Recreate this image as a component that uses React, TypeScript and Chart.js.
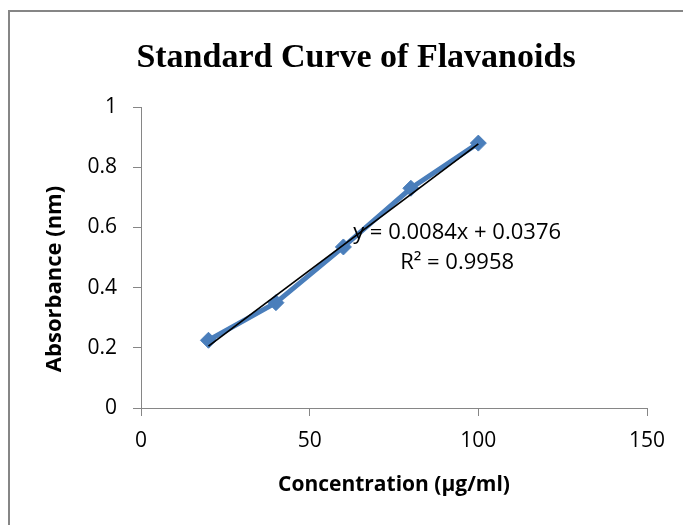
import React, { useEffect, useRef } from "react";
import { Chart, registerables } from "chart.js";

Chart.register(...registerables);

const chartTitle = "Standard Curve of Flavanoids";
const xAxisTitle = "Concentration (µg/ml)";
const yAxisTitle = "Absorbance (nm)";

const concentrations = [20, 40, 60, 80, 100];
const absorbances = [0.225, 0.35, 0.535, 0.73, 0.88];

const xTickValues = [0, 50, 100, 150];
const yTickValues = [0, 0.2, 0.4, 0.6, 0.8, 1];

const trendSlope = 0.0084;
const trendIntercept = 0.0376;
const trendXRange = [20, 100];
const equationText = "y = 0.0084x + 0.0376";
const r2Text = "R² = 0.9958";
const equationAnchor = [93.7, 0.583];

const SERIES_BLUE = "#4A7EBB";
const AXIS_GREY = "#868686";
const SANS = "'Open Sans', 'DejaVu Sans', sans-serif";

export default function App() {
  const canvasRef = useRef<HTMLCanvasElement | null>(null);

  useEffect(() => {
    const canvas = canvasRef.current;
    if (!canvas) return;

    const trendData = trendXRange.map((x) => ({ x, y: trendSlope * x + trendIntercept }));
    const seriesData = concentrations.map((x, i) => ({ x, y: absorbances[i] }));

    const overlayPlugin = {
      id: "overlayText",
      afterDraw(chart: any) {
        const ctx = chart.ctx;
        ctx.save();
        ctx.fillStyle = "#000";
        ctx.textAlign = "center";
        ctx.textBaseline = "middle";
        ctx.font = "bold 34px 'Liberation Serif', 'Times New Roman', serif";
        ctx.fillText(chartTitle, 356, 58);

        // vertical axis title
        ctx.save();
        ctx.translate(55, 279);
        ctx.rotate(-Math.PI / 2);
        ctx.font = "bold 22px " + SANS;
        ctx.fillText(yAxisTitle, 0, 0);
        ctx.restore();

        const xs = chart.scales.x;
        const ys = chart.scales.y;
        const ax = xs.getPixelForValue(equationAnchor[0]);
        const ay = ys.getPixelForValue(equationAnchor[1]);
        ctx.font = "22px " + SANS;
        ctx.fillText(equationText, ax, ay);
        ctx.fillText(r2Text, ax, ay + 30);
        ctx.restore();
      },
    };

    const chart = new Chart(canvas, {
      type: "scatter",
      data: {
        datasets: [
          {
            label: "Linear trend",
            data: trendData,
            showLine: true,
            borderColor: "#000",
            borderWidth: 1.75,
            pointRadius: 0,
            fill: false,
          },
          {
            label: "Absorbance",
            data: seriesData,
            showLine: true,
            borderColor: SERIES_BLUE,
            backgroundColor: SERIES_BLUE,
            borderWidth: 5,
            pointStyle: "rectRot",
            pointRadius: 8,
            pointBorderWidth: 1,
            pointBackgroundColor: SERIES_BLUE,
            pointBorderColor: SERIES_BLUE,
            fill: false,
          },
        ],
      },
      options: {
        responsive: false,
        animation: false,
        devicePixelRatio: 1,
        layout: { padding: { left: 0, right: 36, top: 107, bottom: 0 } },
        plugins: {
          legend: { display: false },
          tooltip: { enabled: false },
          title: { display: false },
        },
        scales: {
          x: {
            type: "linear",
            min: 0,
            max: 150,
            afterBuildTicks: (scale: any) => {
              scale.ticks = xTickValues.map((v) => ({ value: v }));
            },
            afterFit: (scale: any) => {
              scale.height = 117;
            },
            grid: {
              drawOnChartArea: false,
              drawTicks: true,
              tickLength: 8,
              color: AXIS_GREY,
            },
            border: { display: true, color: AXIS_GREY, width: 1 },
            ticks: {
              color: "#000",
              padding: 12,
              font: { family: SANS, size: 21 },
              maxRotation: 0,
              callback: (v: any) => String(v),
            },
            title: {
              display: true,
              text: xAxisTitle,
              color: "#000",
              font: { family: SANS, size: 21, weight: "bold" },
              padding: { top: 0, bottom: 27 },
            },
          },
          y: {
            type: "linear",
            min: 0,
            max: 1,
            afterBuildTicks: (scale: any) => {
              scale.ticks = yTickValues.map((v) => ({ value: v }));
            },
            afterFit: (scale: any) => {
              scale.width = 141;
            },
            grid: {
              drawOnChartArea: false,
              drawTicks: true,
              tickLength: 8,
              color: AXIS_GREY,
            },
            border: { display: true, color: AXIS_GREY, width: 1 },
            ticks: {
              color: "#000",
              padding: 16,
              font: { family: SANS, size: 21 },
              callback: (v: any) => String(Math.round(Number(v) * 10) / 10),
            },
            title: { display: false },
          },
        },
      },
      plugins: [overlayPlugin],
    } as any);

    return () => chart.destroy();
  }, []);

  return (
    <div
      style={{
        position: "fixed",
        left: 0,
        top: 0,
        width: 683,
        height: 525,
        overflow: "hidden",
        background: "#fff",
      }}
    >
      <canvas
        ref={canvasRef}
        width={683}
        height={525}
        style={{ position: "absolute", left: 0, top: 0, width: 683, height: 525 }}
      />
      <div
        style={{
          position: "absolute",
          left: 8,
          top: 10,
          width: 1000,
          height: 1000,
          borderTop: `2px solid ${AXIS_GREY}`,
          borderLeft: `2px solid ${AXIS_GREY}`,
          pointerEvents: "none",
        }}
      />
    </div>
  );
}
